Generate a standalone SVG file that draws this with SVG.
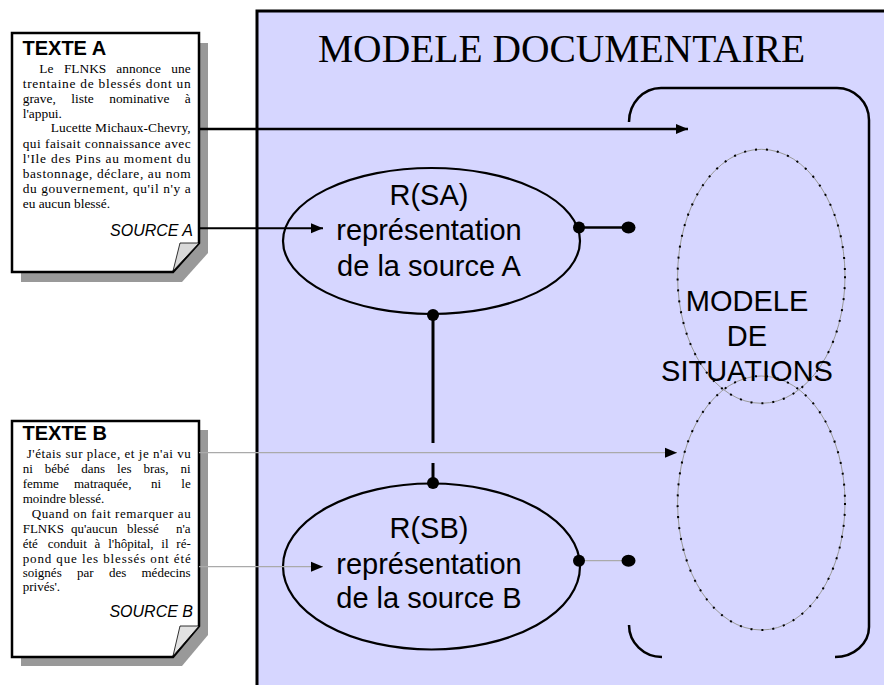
<svg xmlns="http://www.w3.org/2000/svg" width="884" height="685" viewBox="0 0 884 685">
<style>
.body{font-family:"Liberation Serif","Times New Roman",serif;font-size:13.4px;fill:#000}
.bodyb{font-family:"Liberation Serif","Times New Roman",serif;font-size:13px;fill:#000}
.head{font-family:"Liberation Sans",Arial,sans-serif;font-size:20px;font-weight:bold;fill:#000}
.src{font-family:"Liberation Sans",Arial,sans-serif;font-size:16px;font-style:italic;fill:#000}
.lbl{font-family:"Liberation Sans",Arial,sans-serif;font-size:29px;fill:#000;text-anchor:middle}
.doc{fill:#fff;stroke:#000;stroke-width:2.5}
.shadow{fill:#999}
.fold{fill:#d9d9d9;stroke:#000;stroke-width:0.8}
.node{fill:#d6d6ff;stroke:#000;stroke-width:2.2}
.sit1{fill:none;stroke:#999;stroke-width:1}
.sit2{fill:none;stroke:#000;stroke-width:2;stroke-dasharray:2 9}
.blk{stroke:#000;fill:none}
.gry{stroke:#aaa;stroke-width:1.2;fill:none}
.dot{fill:#000}
</style>
<defs>
<marker id="arr" markerUnits="userSpaceOnUse" markerWidth="13" markerHeight="12" refX="12" refY="6" orient="auto">
<path d="M0,1 L12,6 L0,11 Z" fill="#000"/>
</marker>
</defs>

<g id="modele-documentaire">
<rect x="257" y="11" width="700" height="700" fill="#d6d6ff" stroke="#000" stroke-width="3"/>
<text x="318" y="62" style="font-family:'Liberation Serif','Times New Roman',serif;font-size:39.5px">MODELE DOCUMENTAIRE</text>
</g>

<g id="texte-a">
<path class="shadow" d="M21,43 H208 V253 L182,282 H21 Z"/>
<path class="doc" d="M12,33 H199 V243 L173,272 H12 Z"/>
<polygon class="fold" points="180,243 173,271 199,243"/>
<text class="head" x="22.5" y="55">TEXTE A</text>
<text class="body" y="73"><tspan x="39.3">Le</tspan><tspan x="63.9">FLNKS</tspan><tspan x="116.3">annonce</tspan><tspan x="171.3">une</tspan></text>
<text class="body" x="22.7" y="88" textLength="168" lengthAdjust="spacing">trentaine de blessés dont un</text>
<text class="body" y="103"><tspan x="22.7">grave,</tspan><tspan x="71.3">liste</tspan><tspan x="109.2">nominative</tspan><tspan x="184.8">à</tspan></text>
<text class="body" x="22.7" y="118">l'appui.</text>
<text class="body" x="50.7" y="132" textLength="140" lengthAdjust="spacing">Lucette Michaux-Chevry,</text>
<text class="body" x="22.7" y="148" textLength="168" lengthAdjust="spacing">qui faisait  connaissance avec</text>
<text class="body" x="22.7" y="163" textLength="168" lengthAdjust="spacing">l'Ile des Pins au  moment du</text>
<text class="body" x="22.7" y="178" textLength="168" lengthAdjust="spacing">bastonnage, déclare, au nom</text>
<text class="body" x="22.7" y="193" textLength="168" lengthAdjust="spacing">du gouvernement, qu'il n'y a</text>
<text class="body" x="22.7" y="208">eu aucun blessé.</text>
<text class="src" x="193" y="236" text-anchor="end">SOURCE A</text>
</g>

<g id="texte-b">
<path class="shadow" d="M21,430 H208 V635 L182,666 H21 Z"/>
<path class="doc" d="M12,421 H199 V626 L173,657 H12 Z"/>
<polygon class="fold" points="180,626 173,656 199,626" style="fill:#e2e2e2"/>
<text class="head" x="22.5" y="440">TEXTE B</text>
<text class="bodyb" x="26.7" y="457.5" textLength="164" lengthAdjust="spacing">J'étais sur place, et je  n'ai vu</text>
<text class="bodyb" y="472.5"><tspan x="22.7">ni</tspan><tspan x="44.8">bébé</tspan><tspan x="81.3">dans</tspan><tspan x="117.1">les</tspan><tspan x="143.5">bras,</tspan><tspan x="180.4">ni</tspan></text>
<text class="bodyb" y="487.5"><tspan x="22.7">femme</tspan><tspan x="74">matraquée,</tspan><tspan x="151">ni</tspan><tspan x="181.3">le</tspan></text>
<text class="bodyb" x="22.7" y="502.5">moindre blessé.</text>
<text class="bodyb" x="31.7" y="517.5" textLength="159" lengthAdjust="spacing">Quand on  fait  remarquer au</text>
<text class="bodyb" y="532.5"><tspan x="22.7">FLNKS</tspan><tspan x="71">qu'aucun</tspan><tspan x="127">blessé</tspan><tspan x="176">n'a</tspan></text>
<text class="bodyb" y="547.5"><tspan x="22.7">été</tspan><tspan x="47.8">conduit</tspan><tspan x="94.6">à</tspan><tspan x="108.2">l'hôpital,</tspan><tspan x="161.3">il</tspan><tspan x="176.3">ré-</tspan></text>
<text class="bodyb" x="22.7" y="562.5" textLength="168" lengthAdjust="spacing">pond que les blessés  ont été</text>
<text class="bodyb" y="577"><tspan x="22.7">soignés</tspan><tspan x="77">par</tspan><tspan x="108.9">des</tspan><tspan x="141.5">médecins</tspan></text>
<text class="bodyb" x="22.7" y="591">privés'.</text>
<text class="src" x="193" y="617" text-anchor="end">SOURCE B</text>
</g>

<g id="r-sa">
<ellipse class="node" cx="431.5" cy="241" rx="148.5" ry="73"/>
<text class="lbl" x="429" y="205">R(SA)</text>
<text class="lbl" x="429" y="240">représentation</text>
<text class="lbl" x="429" y="276">de la source A</text>
</g>

<g id="r-sb">
<ellipse class="node" cx="431.5" cy="566.5" rx="148.5" ry="83"/>
<text class="lbl" x="429" y="538">R(SB)</text>
<text class="lbl" x="429" y="574">représentation</text>
<text class="lbl" x="429" y="608">de la source B</text>
</g>

<g id="modele-situations">
<path class="blk" stroke-width="2.5" d="M629,122 A32,34 0 0 1 661,88 L837,88 A32,32 0 0 1 869,120 L869,627 A34,30 0 0 1 835,657"/>
<path class="blk" stroke-width="2.5" d="M629,625 A33,32 0 0 0 662,657"/>
<ellipse class="sit1" cx="761.3" cy="276.3" rx="83.7" ry="127"/>
<ellipse class="sit2" cx="761.3" cy="276.3" rx="83.7" ry="127"/>
<ellipse class="sit1" cx="761.3" cy="503" rx="83.7" ry="127"/>
<ellipse class="sit2" cx="761.3" cy="503" rx="83.7" ry="127"/>
<text class="lbl" x="747" y="311">MODELE</text>
<text class="lbl" x="747" y="346">DE</text>
<text class="lbl" x="747" y="381">SITUATIONS</text>
</g>

<g id="connectors">
<line class="blk" stroke-width="2.3" x1="199" y1="129" x2="688" y2="129" marker-end="url(#arr)"/>
<line class="blk" stroke-width="2" x1="199" y1="228.3" x2="323" y2="228.3" marker-end="url(#arr)"/>
<line class="gry" x1="199" y1="452.7" x2="677" y2="452.7" marker-end="url(#arr)"/>
<line class="gry" x1="199" y1="566.7" x2="323" y2="566.7" marker-end="url(#arr)"/>
<line class="blk" stroke-width="2.3" x1="580" y1="227.5" x2="628" y2="227.5"/>
<ellipse class="dot" cx="579" cy="227.5" rx="6" ry="6"/>
<ellipse class="dot" cx="628.5" cy="227.5" rx="7" ry="6"/>
<line class="gry" x1="580" y1="560.7" x2="628" y2="560.7"/>
<ellipse class="dot" cx="579" cy="560.7" rx="6" ry="6"/>
<ellipse class="dot" cx="628.5" cy="560.7" rx="7" ry="6"/>
<line class="blk" stroke-width="3" x1="433" y1="315" x2="433" y2="443"/>
<line class="blk" stroke-width="3" x1="433" y1="463" x2="433" y2="483"/>
<ellipse class="dot" cx="433" cy="315" rx="6" ry="6"/>
<ellipse class="dot" cx="433" cy="483" rx="6" ry="6"/>
</g>
</svg>
